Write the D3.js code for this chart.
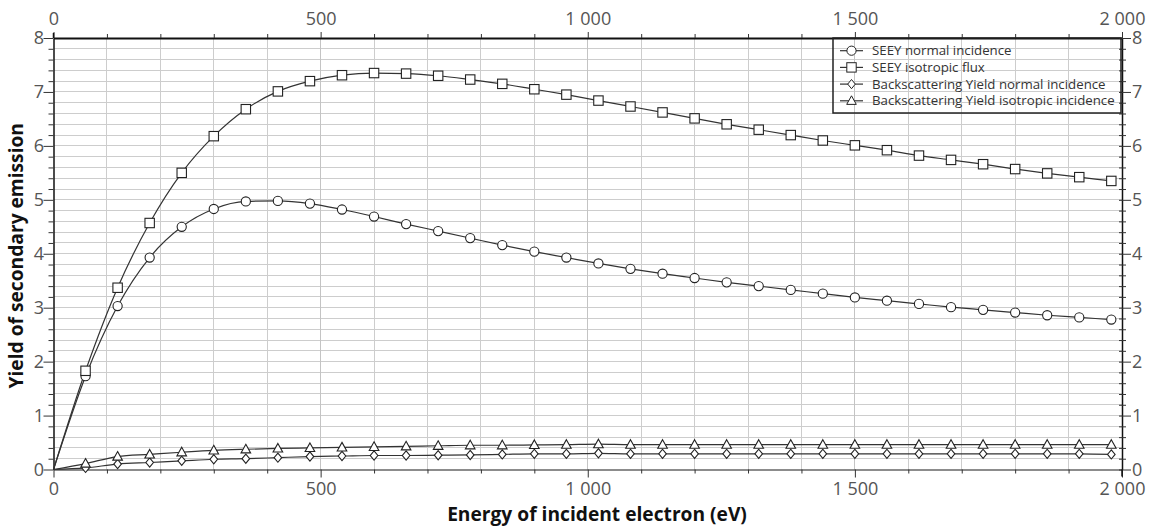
<!DOCTYPE html>
<html><head><meta charset="utf-8">
<script src="https://cdn.jsdelivr.net/npm/d3@7"></script>
<style>
body{margin:0;background:#fff;overflow:hidden}
text{font-family:"Open Sans","Noto Sans",sans-serif}
</style>
</head><body>
<svg id="c" width="1153" height="527"></svg>
<script>
// ---------------- DATA ----------------
const energies = [0,60,120,180,240,300,360,420,480,540,600,660,720,780,840,900,960,1020,1080,1140,1200,1260,1320,1380,1440,1500,1560,1620,1680,1740,1800,1860,1920,1980];
const seeyNormal = [0,1.73,3.03,3.93,4.50,4.83,4.97,4.98,4.93,4.82,4.69,4.55,4.42,4.29,4.16,4.04,3.93,3.82,3.72,3.63,3.55,3.47,3.40,3.33,3.26,3.19,3.13,3.07,3.01,2.96,2.91,2.86,2.82,2.78];
const seeyIso = [0,1.83,3.37,4.57,5.50,6.18,6.68,7.01,7.20,7.31,7.35,7.34,7.30,7.23,7.15,7.05,6.95,6.84,6.73,6.62,6.51,6.40,6.30,6.20,6.10,6.01,5.92,5.82,5.74,5.66,5.57,5.49,5.42,5.35];
const bsNormal = [0,0.03,0.10,0.13,0.16,0.19,0.20,0.22,0.24,0.25,0.26,0.26,0.265,0.27,0.28,0.29,0.29,0.30,0.29,0.29,0.29,0.29,0.29,0.29,0.29,0.29,0.29,0.29,0.29,0.29,0.29,0.29,0.29,0.28];
const bsIso = [0,0.11,0.24,0.28,0.32,0.355,0.375,0.39,0.40,0.41,0.42,0.43,0.44,0.45,0.45,0.455,0.46,0.47,0.46,0.46,0.46,0.46,0.46,0.46,0.46,0.46,0.46,0.46,0.46,0.46,0.46,0.46,0.46,0.46];
const seriesNames = ["SEEY normal incidence","SEEY isotropic flux","Backscattering Yield normal incidence","Backscattering Yield isotropic incidence"];
const seriesMarkers = ["circle","square","diamond","triangle"];
const xTickValues = [0,500,1000,1500,2000];
const xTickLabels = ["0","500","1 000","1 500","2 000"];
const yTickValues = [0,1,2,3,4,5,6,7,8];
const yTickLabels = ["0","1","2","3","4","5","6","7","8"];
const xTitle = "Energy of incident electron (eV)";
const yTitle = "Yield of secondary emission";

// ---------------- LAYOUT ----------------
const L = 53.5, R = 1122, T = 38, B = 469.5;
const svg = d3.select("#c");
const x = d3.scaleLinear().domain([0,2000]).range([L,R]);
const y = d3.scaleLinear().domain([0,8]).range([B,T]);
const xMinor = d3.range(0,2001,100);
const yMinor = d3.range(0,41).map(i => i*0.2);
const isMajorX = v => xTickValues.includes(v);
const isMajorY = v => Math.abs(v - Math.round(v)) < 1e-6;
const labelColor = "#555";

// grid
const grid = svg.append("g").attr("shape-rendering","crispEdges");
grid.selectAll(".gy").data(yMinor.slice(1,-1)).join("line")
  .attr("x1",L).attr("x2",R).attr("y1",d=>y(d)).attr("y2",d=>y(d))
  .attr("stroke","#cdcdcd").attr("stroke-width",1);
grid.selectAll(".gx").data(xMinor.slice(1,-1)).join("line")
  .attr("x1",d=>x(d)).attr("x2",d=>x(d)).attr("y1",T).attr("y2",B)
  .attr("stroke",d=>isMajorX(d)?"#c4c4c4":"#cdcdcd").attr("stroke-width",1);

// axes
function styleAxis(g){ g.selectAll("text").attr("fill",labelColor).attr("font-size",18); }

const fmtX = d => { const i = xTickValues.indexOf(d); return i>=0 ? xTickLabels[i] : ""; };
const fmtY = d => { const i = yTickValues.findIndex(v=>Math.abs(v-d)<1e-6); return i>=0 ? yTickLabels[i] : ""; };

const gB = svg.append("g").attr("transform",`translate(0,${B})`)
  .call(d3.axisBottom(x).tickValues(xMinor).tickSize(4).tickSizeOuter(0).tickFormat(fmtX));
gB.select(".domain").attr("stroke","#666").attr("stroke-width",1.5);
gB.selectAll(".tick line").attr("stroke","#333").attr("y2",d=>isMajorX(d)?8:4);
gB.selectAll(".tick text").attr("y",25.5).attr("dy",null);
styleAxis(gB);

const gT = svg.append("g").attr("transform",`translate(0,${T})`)
  .call(d3.axisTop(x).tickValues(xMinor).tickSize(4).tickSizeOuter(0).tickFormat(fmtX));
gT.select(".domain").attr("stroke","#111").attr("stroke-width",2);
gT.selectAll(".tick line").attr("stroke","#333").attr("y2",d=>isMajorX(d)?-6:-4);
gT.selectAll(".tick text").attr("y",-13.5).attr("dy",null);
styleAxis(gT);

const gL = svg.append("g").attr("transform",`translate(${L},0)`)
  .call(d3.axisLeft(y).tickValues(yMinor).tickSize(5).tickSizeOuter(0).tickFormat(fmtY));
gL.select(".domain").attr("stroke","#111").attr("stroke-width",1.5);
gL.selectAll(".tick line").attr("stroke","#333").attr("x2",d=>isMajorY(d)?-10:-5);
gL.selectAll(".tick text").attr("x",-9.5);
styleAxis(gL);

const gR = svg.append("g").attr("transform",`translate(${R},0)`)
  .call(d3.axisRight(y).tickValues(yMinor).tickSize(4).tickSizeOuter(0).tickFormat(fmtY));
gR.select(".domain").attr("stroke","#111").attr("stroke-width",1.5);
gR.selectAll(".tick line").attr("stroke","#333").attr("x1",-3).attr("x2",d=>isMajorY(d)?9:4);
gR.selectAll(".tick text").attr("x",10);
styleAxis(gR);
// right axis extends a bit below bottom
svg.append("line").attr("x1",R).attr("x2",R).attr("y1",B).attr("y2",B+7).attr("stroke","#111").attr("stroke-width",1.5);
svg.append("line").attr("x1",L).attr("x2",L).attr("y1",T-5).attr("y2",T).attr("stroke","#111").attr("stroke-width",1.5);

// titles
const xt = svg.append("text").attr("x",597).attr("y",520.5).attr("text-anchor","middle")
  .attr("font-weight","bold").attr("font-size",16).attr("fill","#111").text(xTitle);
const wx = xt.node().getComputedTextLength();
const titleFs = 16*300/wx;
xt.attr("font-size", titleFs);
svg.append("text").attr("transform",`translate(23,${(T+B)/2+2}) rotate(-90)`).attr("text-anchor","middle")
  .attr("font-weight","bold").attr("font-size",titleFs).attr("fill","#111").text(yTitle);

// series
const seriesData = [seeyNormal, seeyIso, bsNormal, bsIso];
const line = d3.line().x((d,i)=>x(energies[i])).y(d=>y(d)).curve(d3.curveMonotoneX);
const plot = svg.append("g");

function marker(g, type, cx, cy){
  if(type==="circle") g.append("circle").attr("cx",cx).attr("cy",cy).attr("r",4.6);
  else if(type==="square") g.append("rect").attr("x",cx-4.7).attr("y",cy-4.7).attr("width",9.4).attr("height",9.4);
  else if(type==="diamond") g.append("path").attr("d",`M${cx},${cy-4.6}L${cx+3.8},${cy}L${cx},${cy+4.6}L${cx-3.8},${cy}Z`);
  else g.append("path").attr("d",`M${cx},${cy-5}L${cx+4.8},${cy+3.6}L${cx-4.8},${cy+3.6}Z`);
}

seriesData.forEach((vals,si)=>{
  plot.append("path").datum(vals).attr("d",line).attr("fill","none").attr("stroke","#333").attr("stroke-width",1.2);
});
seriesData.forEach((vals,si)=>{
  const mg = plot.append("g").attr("fill","#fff").attr("stroke","#222").attr("stroke-width",1.1);
  vals.forEach((v,i)=>{ if(i>0) marker(mg, seriesMarkers[si], x(energies[i]), y(v)); });
});

// legend
const lg = svg.append("g");
lg.append("rect").attr("x",833).attr("y",T).attr("width",288).attr("height",75)
  .attr("fill","none").attr("stroke","#222").attr("stroke-width",1.5);
const texts = [];
seriesNames.forEach((name,i)=>{
  const cy = 50.7 + i*16.7;
  lg.append("line").attr("x1",840).attr("x2",863).attr("y1",cy).attr("y2",cy).attr("stroke","#333").attr("stroke-width",1.2);
  const mg = lg.append("g").attr("fill","#fff").attr("stroke","#222").attr("stroke-width",1);
  marker(mg, seriesMarkers[i], 851.5, cy);
  texts.push(lg.append("text").attr("x",872).attr("y",cy).attr("dy","0.35em").attr("font-size",13).attr("fill","#333").text(name));
});
const wLong = texts[3].node().getComputedTextLength();
texts.forEach(t=>t.attr("font-size",13*243/wLong));
</script>
</body></html>
